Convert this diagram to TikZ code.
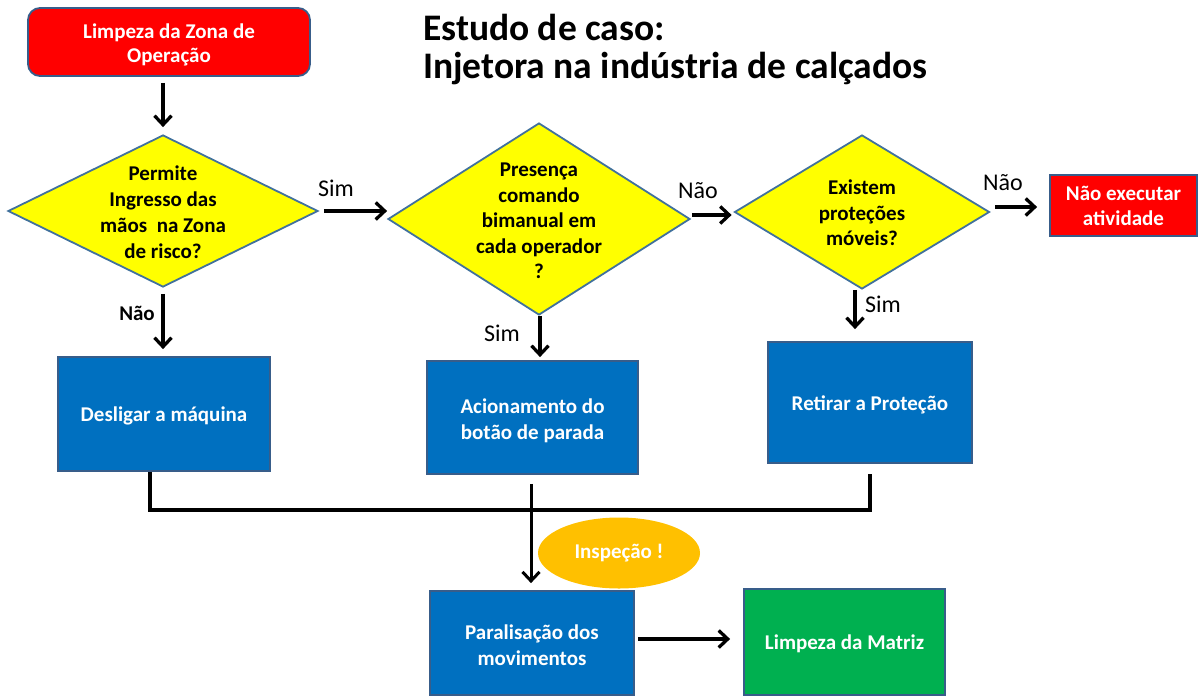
\documentclass[tikz,border=0pt]{standalone}
\usepackage{fontspec}
\setmainfont{Carlito}
\usetikzlibrary{shapes.geometric,arrows.meta,calc}
\definecolor{bord}{RGB}{56,93,138}
\definecolor{dbord}{RGB}{65,113,156}
\definecolor{myred}{RGB}{255,0,0}
\definecolor{myyellow}{RGB}{255,255,0}
\definecolor{myblue}{RGB}{0,112,192}
\definecolor{mygreen}{RGB}{0,176,80}
\definecolor{myorange}{RGB}{255,192,0}
\newcommand{\ctab}[2][0pt]{\raisebox{#1}[\height][\depth]{\begin{tabular}{@{}c@{}}#2\end{tabular}}}
\newcommand{\lowr}[2][0pt]{\raisebox{#1}[\height][\depth]{#2}}
\begin{document}
\begin{tikzpicture}[x=1pt,y=-1pt,
  txt/.style={font=\bfseries\fontsize{21}{26}\selectfont, align=center},
  boxbase/.style={draw=bord, line width=1.8pt, text=white, txt, inner sep=0pt},
  bluebox/.style={boxbase, fill=myblue},
  dec/.style={diamond, draw=dbord, line width=1.8pt, fill=myyellow, inner sep=0pt},
  dectext/.style={txt, text=black},
  lbl/.style={font=\fontsize{24}{28}\selectfont, inner sep=0pt},
  arr/.style={line width=3.3pt, -{Straight Barb[length=9pt,width=17pt]}},
  conn/.style={line width=3.8pt},
  titletext/.style={font=\bfseries\fontsize{37.5}{44}\selectfont, inner sep=0pt, anchor=base west},
]
\useasboundingbox (0,0) rectangle (1204,697);

% title
\node[titletext] (t1) at (423,40) {Estudo de caso:};
\node[titletext] (t2) at (423,78) {Injetora na indústria de calçados};

% nodes
\node[boxbase, fill=myred, rounded corners=12pt, minimum width=282pt, minimum height=68pt,
      font=\bfseries\fontsize{21}{24}\selectfont] (start) at (169,42) {\ctab[-4pt]{Limpeza da Zona de\\Operação}};

\node[dec, minimum width=310pt, minimum height=152pt,
      label={[dectext, yshift=-1pt]center:{Permite\\Ingresso das\\mãos~ na Zona\\de risco?}}] (d1) at (163,211) {};
\node[dec, minimum width=302pt, minimum height=192pt,
      label={[dectext, yshift=-2pt, font=\bfseries\fontsize{21}{25.5}\selectfont]center:{Presença\\comando\\bimanual em\\cada operador\\?}}] (d2) at (539,219) {};
\node[dec, minimum width=255pt, minimum height=154pt,
      label={[dectext, yshift=-1pt, font=\bfseries\fontsize{21}{25.5}\selectfont]center:{Existem\\proteções\\móveis?}}] (d3) at (862,212) {};

\node[boxbase, fill=myred, minimum width=147pt, minimum height=61pt,
      font=\bfseries\fontsize{21}{25}\selectfont] (stop) at (1123.5,205.5) {Não executar\\atividade};

\node[bluebox, minimum width=212pt, minimum height=114pt] (b1) at (164,414) {\lowr[-2pt]{Desligar a máquina}};
\node[bluebox, minimum width=211pt, minimum height=113pt] (b2) at (532.5,417.5) {\ctab[-4pt]{Acionamento do\\botão de parada}};
\node[bluebox, minimum width=204pt, minimum height=121pt] (b3) at (870,402.5) {\lowr[-2pt]{Retirar a Proteção}};
\node[bluebox, minimum width=204pt, minimum height=104pt] (b4) at (532,643) {\ctab[-4pt]{Paralisação dos\\movimentos}};
\node[boxbase, fill=mygreen, minimum width=201pt, minimum height=106pt] (b5) at (844.5,642) {\lowr[-2pt]{Limpeza da Matriz}};

\node[ellipse, fill=myorange, text=white, txt, inner sep=0pt, minimum width=162pt, minimum height=71pt] (insp) at (619,553) {Inspeção !};

% connectors
\draw[arr] ($(start.south -| d1.north)+(0,6)$) -- ($(d1.north)+(0,-7)$);
\draw[arr] ($(d1.east)+(5,0)$) -- (d1.east -| d2.west);
\draw[arr] ($(d2.east)+(1,-4)$) -- ($(d3.west)+(-2,3)$);
\draw[arr] ($(d3.east)+(5,-5)$) -- ($(stop.west)+(-12,1.5)$);
\draw[arr] ($(d1.south)+(0,6)$) -- ($(d1.south |- b1.north)+(0,-7)$);
\draw[arr] ($(d2.south)+(1,0)$) -- ($(d2.south |- b2.north)+(1,-3)$);
\draw[arr] ($(d3.south)+(-7,0)$) -- ($(d3.south |- b3.north)+(-7,-12)$);

\draw[conn] ($(b1.south)+(-14,0)$) -- ++(0,38) -| ($(b3.south)+(0,10)$);
\draw[arr, line width=3pt] ($(b2.south)+(-1.5,9)$) -- ($(b4.north)+(-1,-7)$);
\draw[arr] ($(b4.east)+(3,-4)$) -- ($(b5.west)+(-13,-3)$);

% labels
\node[lbl] (l1) at (336,188) {Sim};
\node[lbl] (l2) at (698,191) {Não};
\node[lbl] (l3) at (1003,183) {Não};
\node[lbl] (l4) at (883,304) {Sim};
\node[lbl] (l5) at (502,333) {Sim};
\node[lbl, font=\bfseries\fontsize{21}{25}\selectfont] (l6) at (137,313) {Não};
\end{tikzpicture}
\end{document}
